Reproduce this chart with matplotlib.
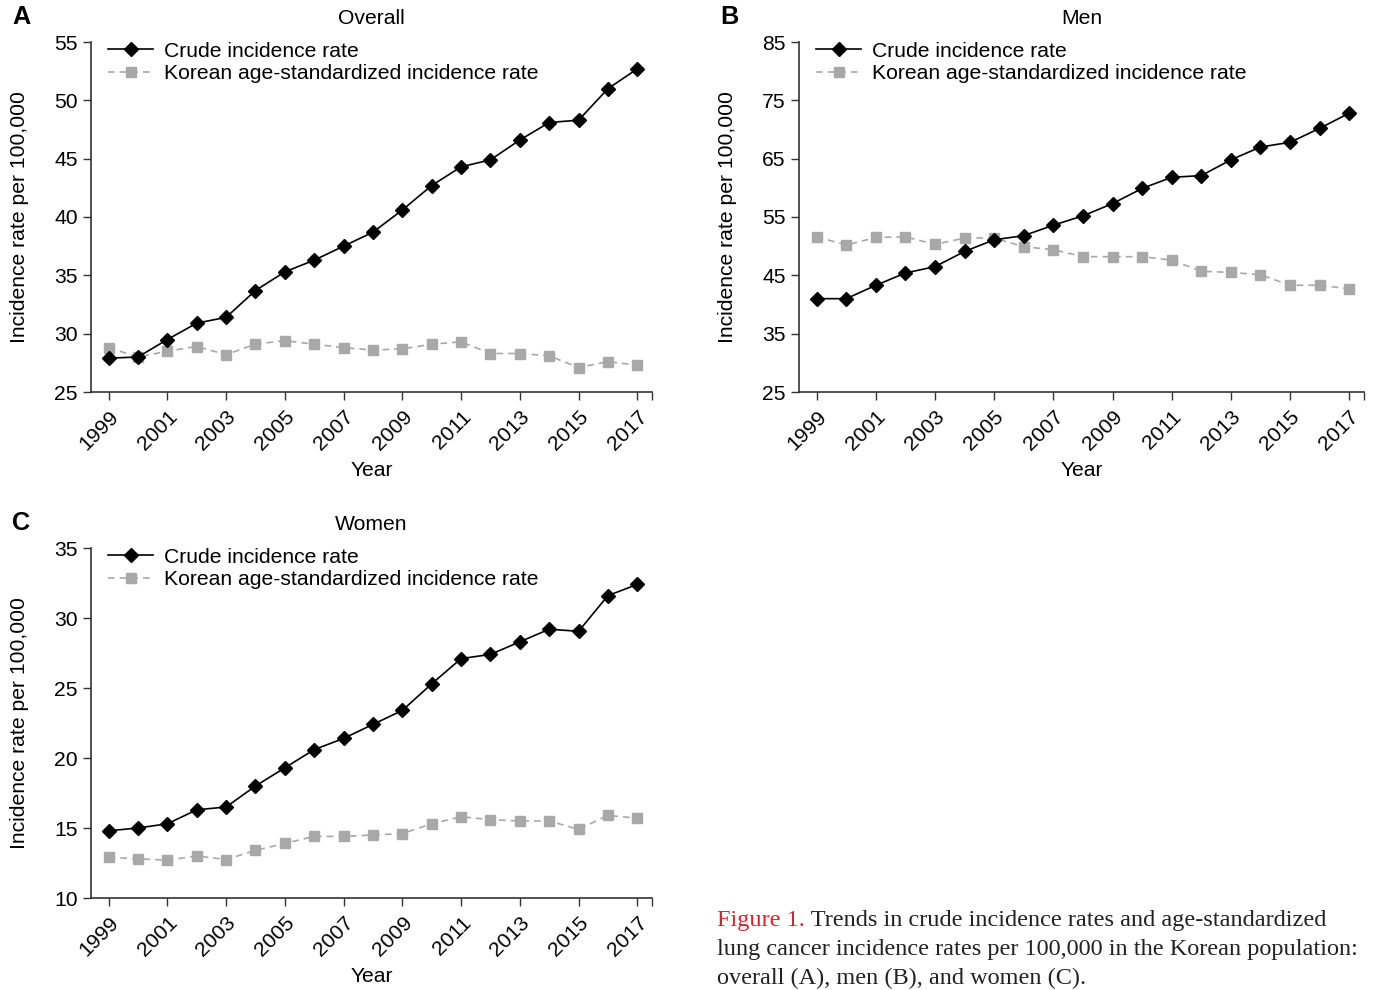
import matplotlib
matplotlib.use("Agg")
import matplotlib.pyplot as plt
import numpy as np

plt.rcParams["font.family"] = ["Liberation Sans", "DejaVu Sans"]

years = list(range(1999, 2018))

overall_crude = [27.9, 28.0, 29.5, 30.9, 31.4, 33.7, 35.3, 36.3, 37.5, 38.7,
                 40.6, 42.7, 44.3, 44.9, 46.6, 48.1, 48.3, 51.0, 52.7]
overall_asr = [28.8, 28.0, 28.5, 28.9, 28.2, 29.1, 29.4, 29.1, 28.8, 28.6,
               28.7, 29.1, 29.3, 28.3, 28.3, 28.1, 27.1, 27.6, 27.3]

men_crude = [41.0, 41.0, 43.3, 45.4, 46.5, 49.1, 51.1, 51.8, 53.6, 55.2,
             57.3, 59.9, 61.8, 62.1, 64.8, 67.0, 67.8, 70.2, 72.8]
men_asr = [51.6, 50.2, 51.5, 51.6, 50.3, 51.4, 51.4, 49.9, 49.4, 48.2,
           48.2, 48.2, 47.6, 45.7, 45.5, 45.1, 43.3, 43.3, 42.7]

women_crude = [14.8, 15.0, 15.3, 16.3, 16.5, 18.0, 19.3, 20.6, 21.4, 22.4,
               23.4, 25.3, 27.1, 27.4, 28.3, 29.2, 29.05, 31.6, 32.4]
women_asr = [12.9, 12.8, 12.7, 13.0, 12.75, 13.4, 13.9, 14.4, 14.4, 14.5,
             14.6, 15.3, 15.8, 15.6, 15.5, 15.5, 14.9, 15.9, 15.7]

panels = [
    ("A", "Overall", overall_crude, overall_asr, (25, 55), 5),
    ("B", "Men", men_crude, men_asr, (25, 85), 10),
    ("C", "Women", women_crude, women_asr, (10, 35), 5),
]

W, H = 1375, 990
# axes boxes in pixels: left, right, top, bottom
boxes = [(91, 652, 42, 392), (799, 1364, 42, 392), (91, 652, 548, 898)]

fig = plt.figure(figsize=(W / 100, H / 100), dpi=100)

gray = "#a8a8a8"
fs = 15.2

for (letter, title, crude, asr, ylim, step), (l, r, t, b) in zip(panels, boxes):
    ax = fig.add_axes([l / W, 1 - b / H, (r - l) / W, (b - t) / H])
    ax.plot(years, crude, color="black", lw=1.2, marker="D", ms=7.5,
            label="Crude incidence rate", zorder=3)
    ax.plot(years, asr, color=gray, lw=1.2, ls=(0, (4, 3)), marker="s", ms=6.5,
            label="Korean age-standardized incidence rate", zorder=2)
    ax.set_xlim(1998.4, 2017.5)
    ax.set_ylim(*ylim)
    ax.set_xticks(years[::2])
    ax.set_xticklabels([str(y) for y in years[::2]], rotation=45, ha="right",
                       rotation_mode="anchor", fontsize=fs)
    ax.set_xticks([2017.5], minor=True)
    ax.set_yticks(np.arange(ylim[0], ylim[1] + 0.1, step))
    ax.tick_params(axis="y", labelsize=fs, length=6, width=1, color="#333333")
    ax.tick_params(axis="x", which="both", length=6, width=1, color="#333333",
                   pad=5)
    for s in ("top", "right"):
        ax.spines[s].set_visible(False)
    for s in ("left", "bottom"):
        ax.spines[s].set_linewidth(1.2)
        ax.spines[s].set_color("#333333")
    ax.set_xlabel("Year", fontsize=fs, labelpad=5)
    ax.set_ylabel("Incidence rate per 100,000", fontsize=fs, labelpad=18)
    ax.set_title(title, fontsize=fs, pad=13)
    ax.text(-0.14, 1.07, letter, transform=ax.transAxes, fontsize=fs + 3,
            fontweight="bold", ha="left", va="center")
    ax.legend(loc="upper left", bbox_to_anchor=(0.016, 1.025), frameon=False,
              fontsize=fs, handlelength=2.1, handletextpad=0.55,
              labelspacing=0.16, borderaxespad=0)

# caption
cap_fs = 17.5
serif = "Liberation Serif"
t1 = fig.text(717 / W, 1 - 926 / H, "Figure 1.", color="#d6242f",
              fontsize=cap_fs, family=serif, va="baseline")
plt.annotate(" Trends in crude incidence rates and age-standardized",
             xy=(1, 0), xycoords=t1, xytext=(0, 0),
             textcoords="offset points", fontsize=cap_fs,
             family=serif, color="#222222", va="bottom", ha="left")
fig.text(717 / W, 1 - 955 / H,
         "lung cancer incidence rates per 100,000 in the Korean population:",
         fontsize=cap_fs, family=serif, color="#222222", va="baseline")
fig.text(717 / W, 1 - 984 / H, "overall (A), men (B), and women (C).",
         fontsize=cap_fs, family=serif, color="#222222", va="baseline")

fig.savefig("out.png", dpi=100)
